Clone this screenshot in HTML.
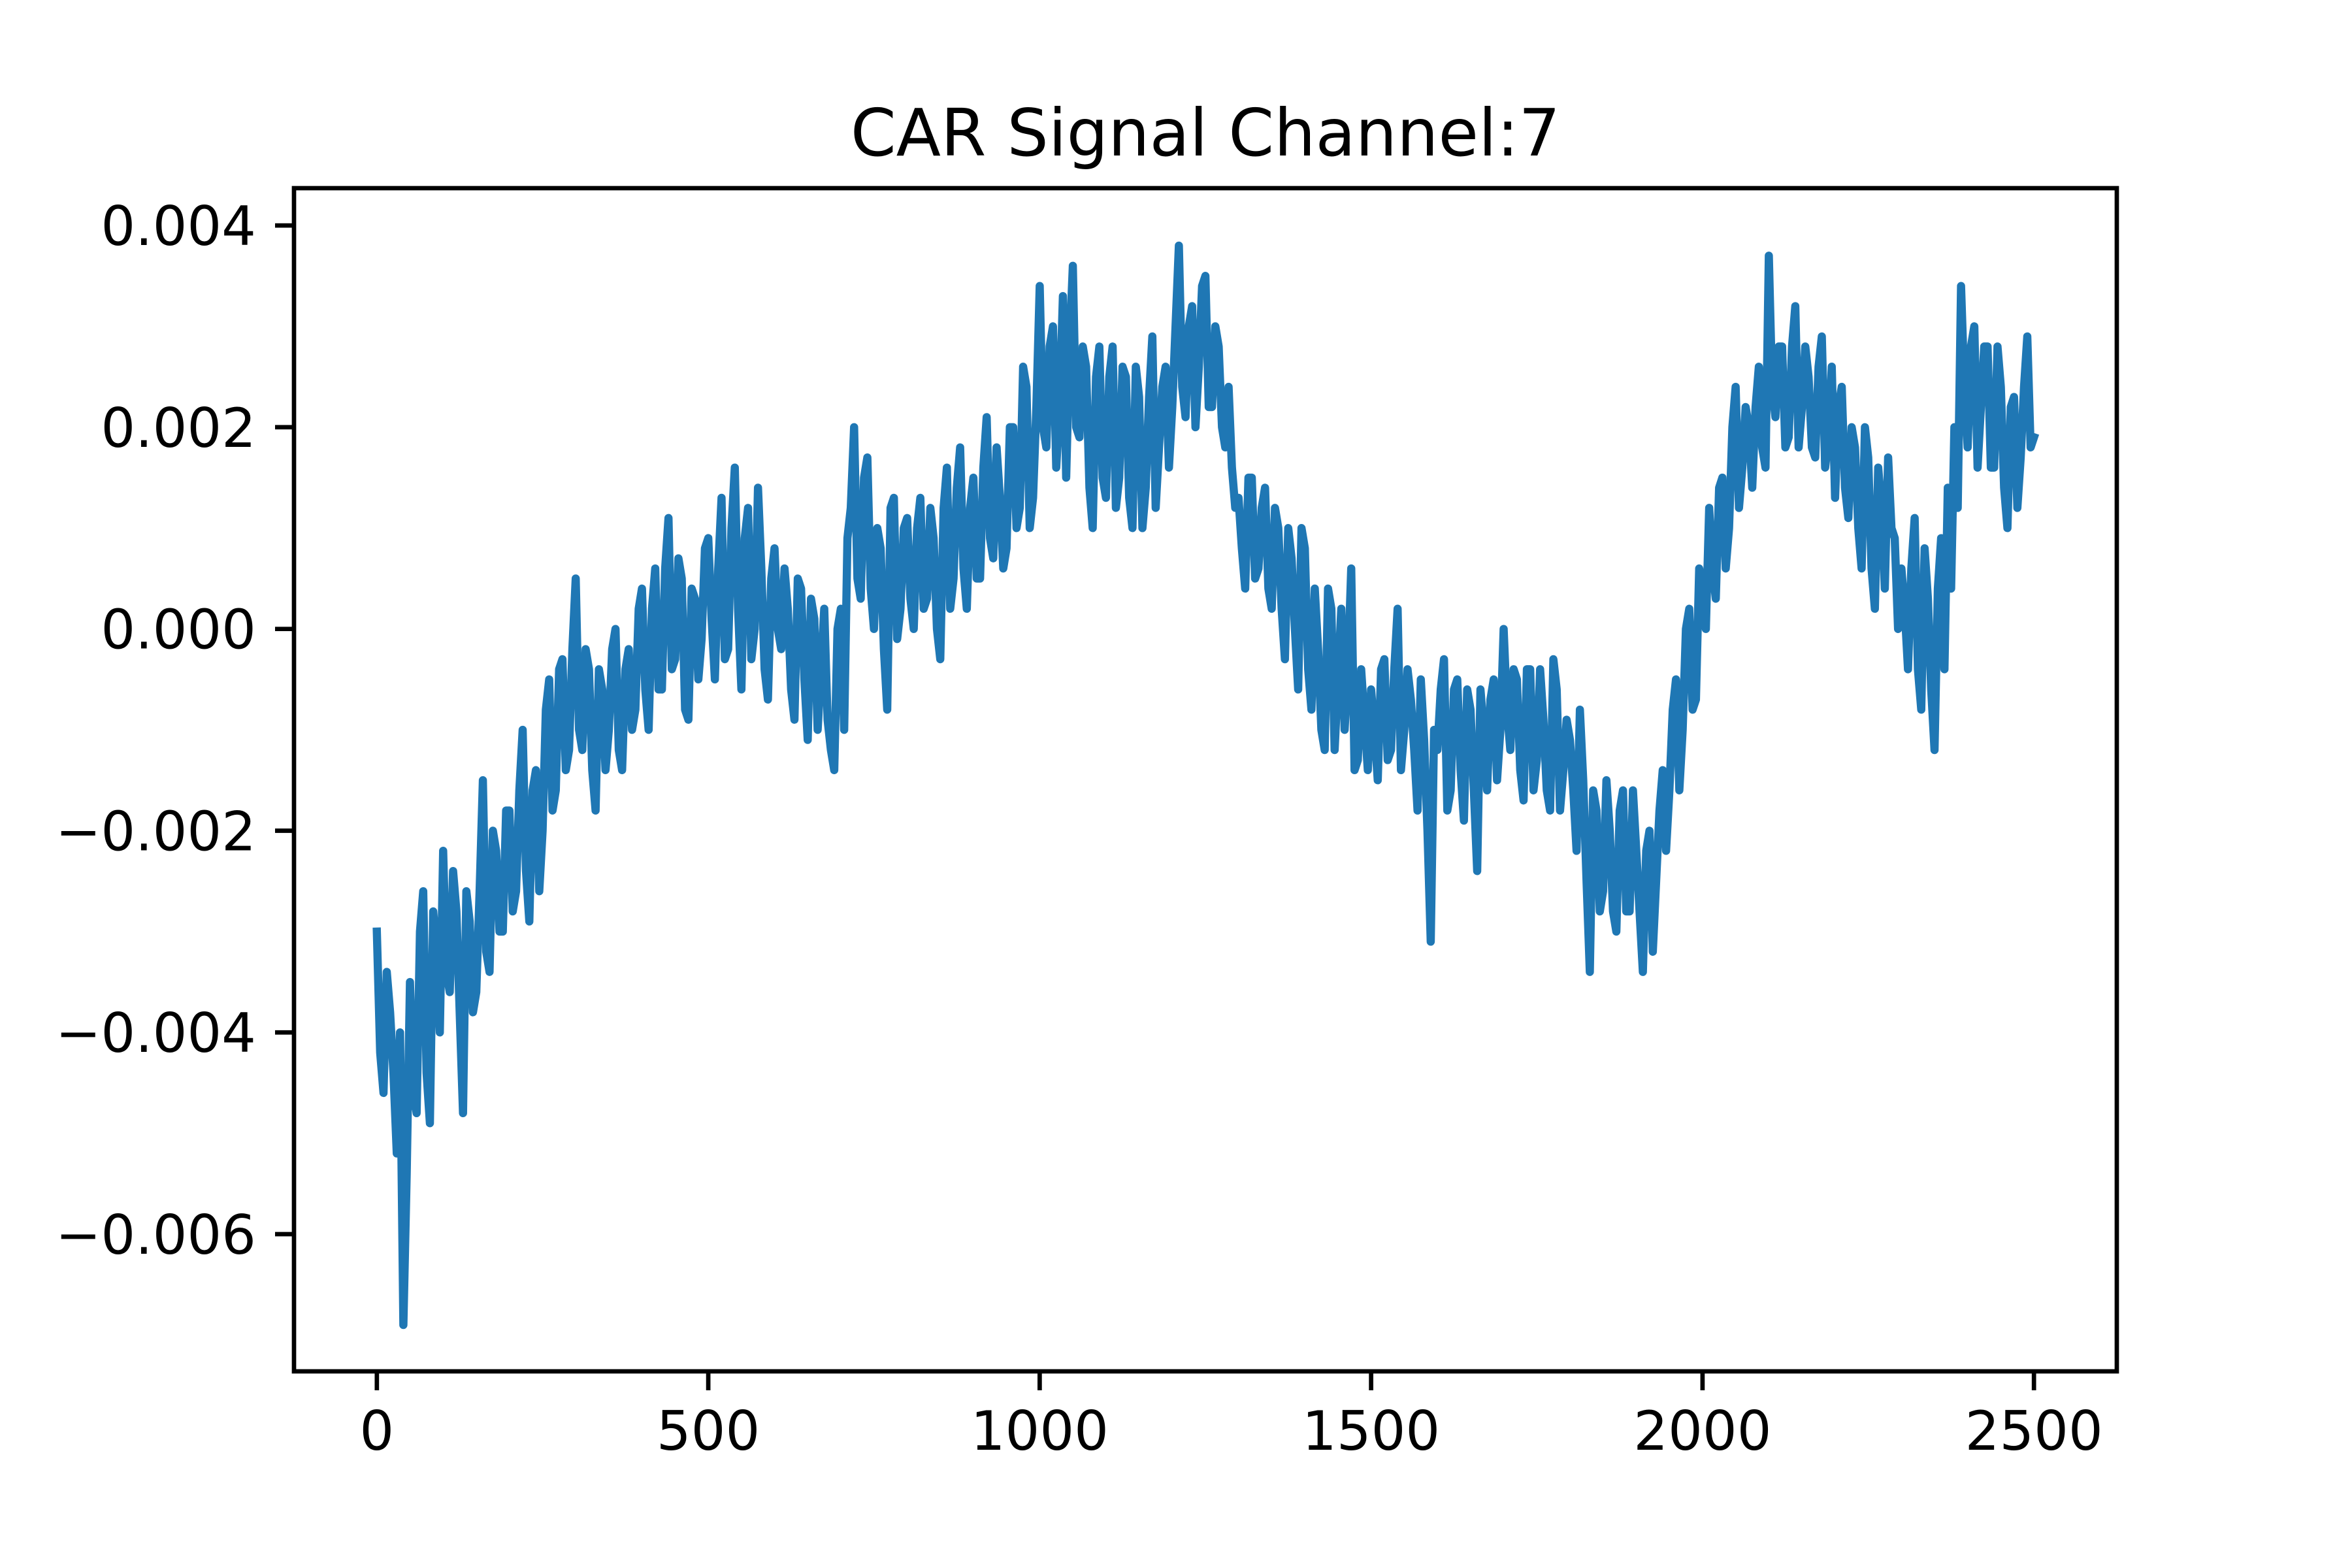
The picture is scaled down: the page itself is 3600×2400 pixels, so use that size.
<!DOCTYPE html>
<html><head><meta charset="utf-8"><style>
html,body{margin:0;padding:0;background:#fff}
svg{display:block}
text{font-family:"DejaVu Sans","Liberation Sans",sans-serif;fill:#000}
</style></head><body>
<svg id="chart" width="3600" height="2400" viewBox="0 0 3600 2400">
<rect width="3600" height="2400" fill="#fff"/>
<text x="1845" y="238" font-size="100" text-anchor="middle">CAR Signal Channel:7</text>
<g id="plot"></g>
<g id="xticks"></g>
<g id="yticks"></g>
<rect x="450" y="288" width="2790" height="1811" fill="none" stroke="#000" stroke-width="6.7"/>
</svg>
<script>
const sampleStep = 10;
const signalMilli = [
-3.0,-4.6,-3.8,-5.2,-6.9,-3.5,-4.8,-2.6,-4.9,-3.2,
-2.2,-3.6,-2.8,-4.8,-2.9,-3.6,-1.5,-3.4,-2.2,-3.0,
-1.8,-2.6,-1.0,-2.9,-1.4,-2.0,-0.5,-1.6,-0.3,-1.2,
0.5,-1.2,-0.4,-1.8,-0.6,-1.0,0.0,-1.4,-0.2,-0.8,
0.4,-1.0,0.6,-0.6,1.1,-0.3,0.5,-0.9,0.3,-0.1,
0.9,-0.5,1.3,-0.2,1.6,-0.6,1.2,0.0,0.6,-0.7,
0.8,-0.2,0.2,-0.9,0.4,-1.1,0.1,-0.4,-0.9,-1.4,
0.2,0.9,2.0,0.3,1.7,0.0,0.8,-0.8,1.3,0.2,
1.1,0.0,1.3,0.3,0.9,-0.3,1.6,0.5,1.8,0.2,
1.5,0.5,2.1,0.7,1.3,0.8,2.0,1.2,2.4,1.3,
3.4,1.8,3.0,2.2,1.5,3.6,1.9,2.6,1.0,2.8,
1.3,2.8,1.5,2.5,1.0,2.3,1.4,2.9,1.8,2.6,
2.2,3.8,2.1,3.2,2.6,3.5,2.2,2.8,1.8,1.6,
1.3,0.4,1.5,0.6,1.4,0.2,1.0,-0.3,0.7,-0.6,
0.8,-0.8,-0.2,-1.2,0.2,-0.5,-1.0,0.6,-1.3,-0.9,
-0.6,-1.5,-0.3,-1.2,0.2,-1.0,-0.7,-1.8,-1.1,-3.1,
-1.2,-0.3,-1.6,-0.5,-1.9,-0.8,-2.4,-1.0,-0.7,-1.5,
0.0,-1.2,-0.5,-1.7,-0.4,-1.3,-0.9,-1.8,-0.6,-1.4,
-1.1,-2.2,-1.5,-3.4,-1.8,-2.6,-2.0,-3.0,-1.6,-2.8,
-2.2,-3.4,-2.0,-2.5,-1.4,-1.6,-0.5,-1.0,0.2,-0.7,
0.4,1.2,0.3,1.5,1.0,2.4,1.6,2.0,2.2,1.8,
3.7,2.1,2.8,1.9,3.2,2.2,2.5,1.7,2.9,1.9,
1.3,2.4,1.1,1.8,0.6,1.7,0.2,1.2,1.7,0.9,
0.6,-0.4,1.1,-0.8,0.3,-1.2,0.9,1.4,2.0,3.4,
1.8,3.0,2.2,2.8,1.6,2.4,1.0,2.3,1.7,2.9,1.9
];
const signalMilliMid = [
-4.2,-3.4,-4.4,-4.0,-5.4,-4.6,-3.0,-4.4,-2.8,-4.0,
-3.4,-2.4,-3.8,-2.6,-3.8,-2.6,-3.2,-2.0,-3.0,-1.8,
-2.8,-1.6,-2.4,-1.6,-2.6,-0.8,-1.8,-0.4,-1.4,-0.2,
-1.0,-0.2,-1.4,-0.4,-1.4,-0.2,-1.2,-0.4,-1.0,0.2,
-0.6,0.2,-0.6,0.6,-0.4,0.7,-0.8,0.4,-0.5,0.8,
0.1,0.6,-0.3,1.0,0.2,0.9,-0.3,1.4,-0.4,0.5,
0.0,0.6,-0.6,0.5,-0.5,0.3,-1.0,0.2,-1.2,0.0,
-1.0,1.2,0.5,1.5,0.4,1.0,-0.2,1.2,-0.1,1.0,
0.3,1.0,0.2,1.2,0.0,1.2,0.2,1.4,0.6,1.2,
0.5,1.6,0.9,1.8,0.6,2.0,1.0,2.6,1.0,2.2,
2.0,2.8,1.6,3.3,2.8,2.0,2.8,1.4,2.5,1.5,
2.5,1.2,2.6,1.3,2.6,1.0,2.3,1.2,2.4,1.6,
3.0,2.4,3.0,2.0,3.4,2.2,3.0,2.0,2.4,1.2,
0.8,1.5,0.5,1.2,0.4,1.2,0.2,1.0,0.0,1.0,
-0.4,0.4,-1.0,0.4,-1.2,0.2,-0.4,-1.4,-0.4,-1.4,
-1.0,-0.4,-1.3,-0.4,-1.4,-0.4,-1.2,-0.5,-2.0,-1.0,
-0.6,-1.8,-0.6,-1.4,-0.6,-1.6,-0.6,-1.6,-0.5,-1.0,
-0.8,-0.4,-1.4,-0.4,-1.6,-0.4,-1.6,-0.3,-1.8,-0.9,
-1.6,-0.8,-2.5,-1.6,-2.8,-1.5,-2.8,-1.8,-2.8,-1.6,
-2.8,-2.2,-3.2,-1.8,-2.2,-0.8,-1.6,0.0,-0.8,0.6,
0.0,0.6,1.4,0.6,2.0,1.2,2.2,1.4,2.6,1.6,
2.4,2.8,1.8,2.8,1.8,2.8,1.8,2.6,1.6,2.6,
2.2,1.4,2.0,1.0,2.0,0.6,1.6,0.4,1.0,0.0,
0.2,0.6,-0.4,0.8,-0.6,0.4,-0.4,0.4,1.2,2.4,
2.8,1.6,2.8,1.6,2.8,1.4,2.2,1.2,2.4,1.8
];
const xTickValues = [0,500,1000,1500,2000,2500];
const xTickLabels = ["0","500","1000","1500","2000","2500"];
const yTickValues = [-0.006,-0.004,-0.002,0.000,0.002,0.004];
const yTickLabels = ["\u22120.006","\u22120.004","\u22120.002","0.000","0.002","0.004"];

const NS="http://www.w3.org/2000/svg";
const L=450,R=3240,T=288,B=2099;
const xMin=-125,xMax=2625,yMin=-0.00736,yMax=0.00437;
function sx(v){return L+(v-xMin)/(xMax-xMin)*(R-L);}
function sy(v){return B-(v-yMin)/(yMax-yMin)*(B-T);}

let d="";
signalMilli.forEach((v,i)=>{
 d+=(i?"L":"M")+sx(i*sampleStep).toFixed(1)+","+sy(v/1000).toFixed(1);
 if(i<signalMilliMid.length){d+="L"+sx(i*sampleStep+sampleStep/2).toFixed(1)+","+sy(signalMilliMid[i]/1000).toFixed(1);}
});
const p=document.createElementNS(NS,"path");
p.setAttribute("d",d);p.setAttribute("fill","none");p.setAttribute("stroke","#1f77b4");
p.setAttribute("stroke-width","12.5");p.setAttribute("stroke-linejoin","round");p.setAttribute("stroke-linecap","square");


document.getElementById("plot").appendChild(p);

const xg=document.getElementById("xticks");
xTickValues.forEach((v,i)=>{
 const x=sx(v);
 const ln=document.createElementNS(NS,"line");
 ln.setAttribute("x1",x);ln.setAttribute("x2",x);ln.setAttribute("y1",B);ln.setAttribute("y2",B+29);
 ln.setAttribute("stroke","#000");ln.setAttribute("stroke-width","6.7");
 
 
 xg.appendChild(ln);
 const t=document.createElementNS(NS,"text");
 t.setAttribute("x",x);t.setAttribute("y",B+120);t.setAttribute("font-size","83");t.setAttribute("text-anchor","middle");
 t.textContent=xTickLabels[i];
 
 
 xg.appendChild(t);
});
const yg=document.getElementById("yticks");
yTickValues.forEach((v,i)=>{
 const y=sy(v);
 const ln=document.createElementNS(NS,"line");
 ln.setAttribute("x1",L-29);ln.setAttribute("x2",L);ln.setAttribute("y1",y);ln.setAttribute("y2",y);
 ln.setAttribute("stroke","#000");ln.setAttribute("stroke-width","6.7");
 
 
 yg.appendChild(ln);
 const t=document.createElementNS(NS,"text");
 t.setAttribute("x",L-58);t.setAttribute("y",y+30);t.setAttribute("font-size","83");t.setAttribute("text-anchor","end");
 t.textContent=yTickLabels[i];
 
 
 yg.appendChild(t);
});
</script>
</body></html>
